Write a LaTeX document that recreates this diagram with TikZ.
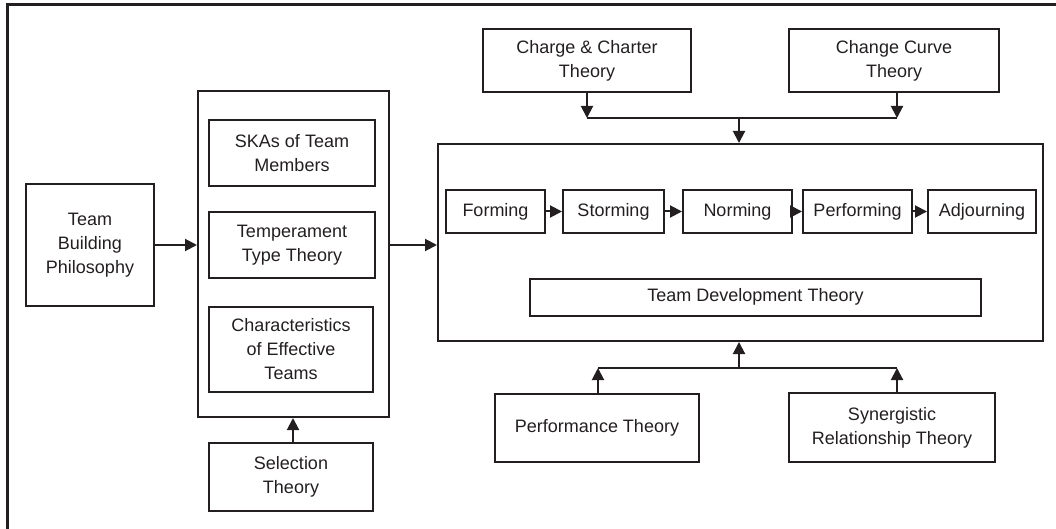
\documentclass[tikz,border=0pt]{standalone}
\usepackage{fontspec}
\setmainfont{Liberation Sans}
\usetikzlibrary{arrows.meta}
\definecolor{ink}{HTML}{231F20}
\tikzset{
  box/.style={draw=ink, line width=2pt, align=center, inner sep=0pt, text=ink,
    font=\fontsize{18}{24}\selectfont},
  arr/.style={draw=ink, line width=2pt, -{Triangle[length=12pt,width=12pt]}},
  ln/.style={draw=ink, line width=2pt}
}
\begin{document}
\begin{tikzpicture}[x=1pt,y=-1pt]
\useasboundingbox (0,0) rectangle (1056,529);
\draw[ink, line width=3pt] (7,540) -- (7,5) -- (1070,5);
% left column
\node[box, minimum width=128, minimum height=121] (tbp) at (90,245) {Team\\Building\\Philosophy};
\node[box, minimum width=191, minimum height=326] (cont) at (293.5,254) {};
\node[box, minimum width=166, minimum height=66] (ska) at (292,153) {SKAs of Team\\Members};
\node[box, minimum width=166, minimum height=66] (temp) at (292,245) {Temperament\\Type Theory};
\node[box, minimum width=164, minimum height=85] (char) at (291,349) {Characteristics\\of Effective\\Teams};
\node[box, minimum width=164, minimum height=68] (sel) at (291,476.5) {Selection\\Theory};
% right part
\node[box, minimum width=605, minimum height=197] (big) at (740.5,242.5) {};
\node[box, minimum width=208, minimum height=63] (cc) at (587,60.5) {Charge \& Charter\\Theory};
\node[box, minimum width=210, minimum height=63] (cv) at (894,60.5) {Change Curve\\Theory};
\node[box, minimum width=99, minimum height=42] (form) at (495.5,211.5) {Forming};
\node[box, minimum width=101, minimum height=42] (storm) at (613.5,211.5) {Storming};
\node[box, minimum width=109, minimum height=42] (norm) at (737.5,211.5) {Norming};
\node[box, minimum width=109, minimum height=42] (perf) at (857.5,211.5) {Performing};
\node[box, minimum width=108, minimum height=42] (adj) at (982,211.5) {Adjourning};
\node[box, minimum width=451, minimum height=37] (tdt) at (755.5,297) {Team Development Theory};
\node[box, minimum width=204, minimum height=68] (pt) at (597,428) {Performance Theory};
\node[box, minimum width=206, minimum height=69] (syn) at (892,427.5) {Synergistic\\Relationship Theory};
% connectors
\coordinate (jt) at (739,118);
\coordinate (jb) at (739,368);
\coordinate (cvx) at (897,92);
\coordinate (synx) at (897,393);
\coordinate (ptx) at (598,394);
\draw[arr] (tbp.east |- 0,245) -- (cont.west |- 0,245);
\draw[arr] (cont.east |- 0,245) -- (big.west |- 0,245);
\draw[arr] (sel.north -| 293,0) -- (cont.south -| 293,0);
\draw[arr] (form) -- (storm);
\draw[arr] (storm) -- (norm);
\draw[arr] (norm) -- (perf);
\draw[arr] (perf) -- (adj);
\draw[arr] (cc.south) -- (cc.south |- jt);
\draw[arr] (cvx) -- (cvx |- jt);
\draw[ln] (cc.south |- jt) -- (cvx |- jt);
\draw[arr] (jt) -- (big.north -| jt);
\draw[arr] (ptx) -- (ptx |- jb);
\draw[arr] (synx) -- (synx |- jb);
\draw[ln] (ptx |- jb) -- (synx |- jb);
\draw[arr] (jb) -- (big.south -| jb);
\end{tikzpicture}
\end{document}
